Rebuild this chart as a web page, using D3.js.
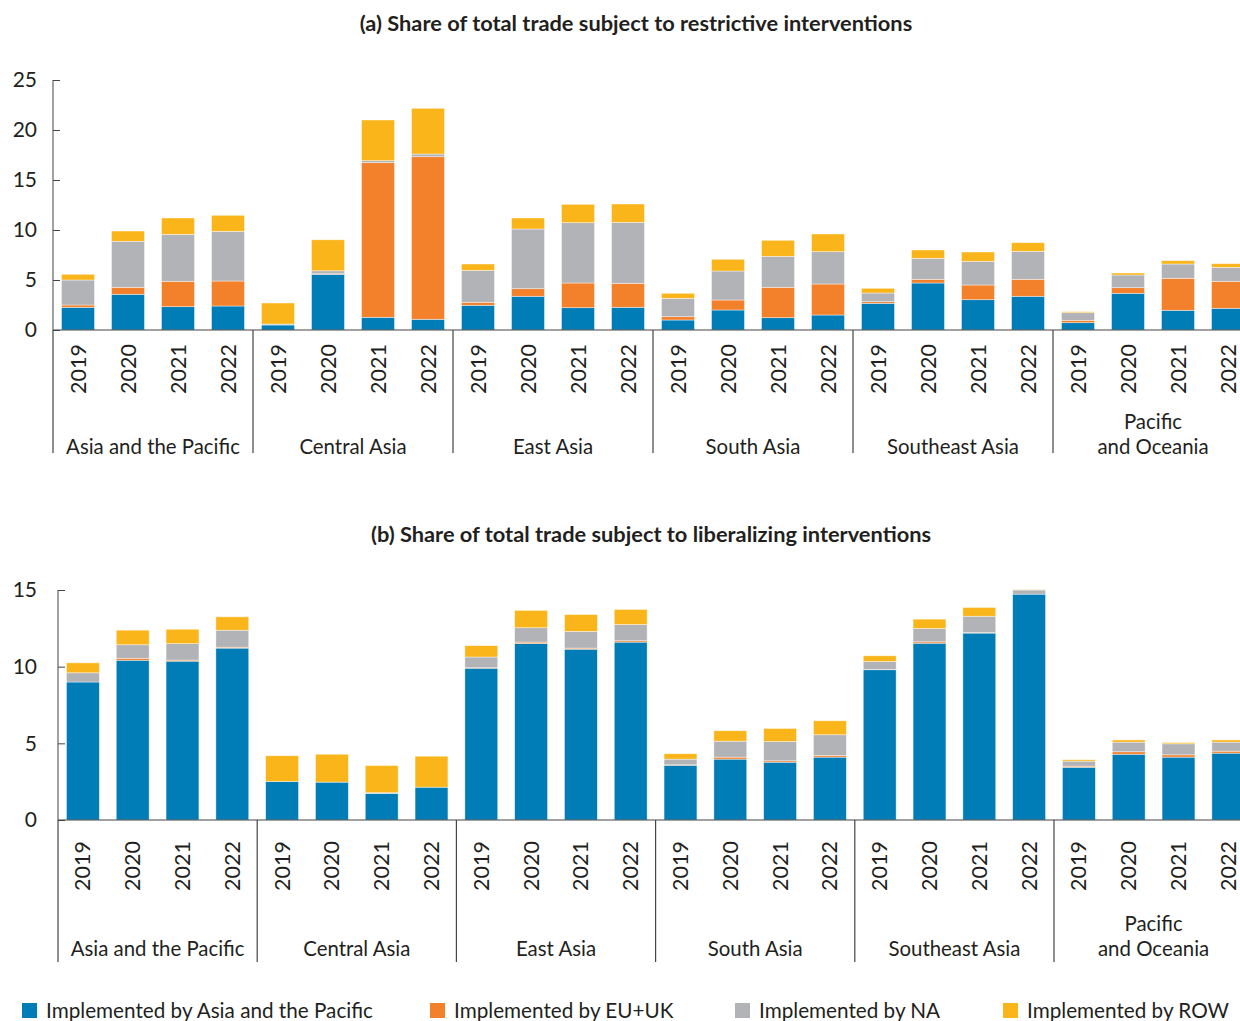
<!DOCTYPE html>
<html>
<head>
<meta charset="utf-8">
<script src="https://cdn.jsdelivr.net/npm/d3@7"></script>
<style>
	body { margin: 0; background: #fff; overflow: hidden; }
	text { font-family: Lato, "Open Sans", sans-serif; fill: #231f20; }
</style>
</head>
<body>
<div id="chart"></div>
<script>
/* eslint-disable no-magic-numbers */

var regions = ["Asia and the Pacific", "Central Asia", "East Asia", "South Asia", "Southeast Asia", "Pacific and Oceania"];
var regionLabels = [["Asia and the Pacific"], ["Central Asia"], ["East Asia"], ["South Asia"], ["Southeast Asia"], ["Pacific", "and Oceania"]];
var years = ["2019", "2020", "2021", "2022"];
var seriesNames = ["Implemented by Asia and the Pacific", "Implemented by EU+UK", "Implemented by NA", "Implemented by ROW"];
var colors = ["#007db7", "#f3812b", "#b2b3b6", "#fab51a"];

// (a) restrictive, per region x year
var restrictAPAC = [2.27, 3.57, 2.33, 2.4, 0.5, 5.57, 1.27, 1.07, 2.47, 3.37, 2.23, 2.27, 1.0, 2.0, 1.23, 1.5, 2.67, 4.7, 3.03, 3.37, 0.73, 3.67, 1.97, 2.17];
var restrictEU = [0.23, 0.7, 2.54, 2.5, 0, 0.05, 15.46, 16.26, 0.3, 0.76, 2.47, 2.4, 0.33, 1.0, 3.04, 3.1, 0.16, 0.37, 1.47, 1.7, 0.24, 0.56, 3.2, 2.7];
var restrictNA = [2.5, 4.6, 4.7, 4.97, 0.1, 0.3, 0.2, 0.27, 3.2, 5.97, 6.03, 6.1, 1.84, 2.9, 3.1, 3.23, 0.87, 2.1, 2.37, 2.8, 0.76, 1.27, 1.43, 1.4];
var restrictROW = [0.57, 1.03, 1.63, 1.6, 2.1, 3.1, 4.07, 4.57, 0.63, 1.1, 1.84, 1.83, 0.5, 1.17, 1.6, 1.77, 0.47, 0.83, 0.93, 0.86, 0.1, 0.2, 0.33, 0.36];

// (b) liberalizing
var liberalAPAC = [9.0, 10.42, 10.36, 11.21, 2.51, 2.47, 1.73, 2.14, 9.9, 11.51, 11.14, 11.6, 3.57, 3.97, 3.77, 4.1, 9.8, 11.53, 12.19, 14.73, 3.44, 4.29, 4.1, 4.36];
var liberalEU = [0, 0.13, 0.07, 0.06, 0, 0, 0, 0, 0.03, 0.09, 0.07, 0.09, 0.03, 0.13, 0.09, 0.11, 0.02, 0.09, 0.03, 0, 0.07, 0.16, 0.15, 0.13];
var liberalNA = [0.6, 0.88, 1.07, 1.11, 0, 0, 0.05, 0, 0.7, 0.94, 1.09, 1.06, 0.37, 1.04, 1.26, 1.35, 0.52, 0.87, 1.07, 0.27, 0.33, 0.63, 0.72, 0.59];
var liberalROW = [0.65, 0.95, 0.94, 0.87, 1.68, 1.82, 1.77, 2.02, 0.74, 1.13, 1.1, 0.98, 0.35, 0.68, 0.85, 0.91, 0.37, 0.61, 0.57, 0.03, 0.09, 0.14, 0.08, 0.14];

var restrictTicks = [0, 5, 10, 15, 20, 25];
var liberalTicks = [0, 5, 10, 15];

var svg = d3.select("#chart").append("svg")
	.attr("width", 1240)
	.attr("height", 1021);

function buildRows(a, b, c, d) {
	var rows = [];
	regions.forEach(function(r, ri) {
		years.forEach(function(yr, yi) {
			var i = ri * years.length + yi;
			rows.push({ key: r + "|" + yr, region: r, year: yr, s0: a[i], s1: b[i], s2: c[i], s3: d[i] });
		});
	});
	return rows;
}

function panel(opt) {
	var rows = buildRows.apply(null, opt.series),
		keys = ["s0", "s1", "s2", "s3"],
		stacked = d3.stack().keys(keys)(rows),
		x = d3.scaleBand()
			.domain(rows.map(function(d) { return d.key; }))
			.range([opt.left, opt.left + opt.step * rows.length])
			.paddingInner(0.34)
			.paddingOuter(0.17),
		y = d3.scaleLinear()
			.domain([0, opt.max])
			.range([opt.base, opt.top]),
		g = svg.append("g");

	g.append("text")
		.attr("x", opt.titleX)
		.attr("y", opt.titleY)
		.attr("text-anchor", "middle")
		.style("font-size", "21.8px")
		.style("font-weight", "bold")
		.text(opt.title);

	g.append("g")
		.selectAll("g")
		.data(stacked)
		.join("g")
		.attr("fill", function(d, i) { return colors[i]; })
		.selectAll("rect")
		.data(function(d) { return d; })
		.join("rect")
		.attr("x", function(d) { return x(d.data.key); })
		.attr("width", x.bandwidth())
		.attr("y", function(d) { return y(d[1]); })
		.attr("height", function(d) { return Math.max(0, y(d[0]) - y(d[1])); })
		.attr("stroke", "#fff")
		.attr("stroke-opacity", 0.6)
		.attr("stroke-width", 0.7);

	// y axis, ticks pointing inwards
	var yAxis = g.append("g")
		.attr("transform", "translate(" + opt.left + ",0)")
		.call(d3.axisRight(y).tickValues(opt.ticks).tickSize(7).tickFormat(""));
	yAxis.select(".domain").attr("stroke", "#444").attr("d", "M0," + opt.top + "V" + opt.base);
	yAxis.selectAll(".tick line").attr("stroke", "#444");

	g.append("g")
		.selectAll("text")
		.data(opt.ticks)
		.join("text")
		.attr("x", 37)
		.attr("y", function(d) { return y(d); })
		.attr("dy", "0.35em")
		.attr("text-anchor", "end")
		.style("font-size", "21px")
		.text(function(d) { return d; });

	// baseline
	g.append("line")
		.attr("x1", opt.left)
		.attr("x2", opt.left + opt.step * rows.length)
		.attr("y1", y(0))
		.attr("y2", y(0))
		.attr("stroke", "#444")
		.attr("stroke-width", 1.2);

	// year labels
	g.append("g")
		.selectAll("text")
		.data(rows)
		.join("text")
		.attr("transform", function(d) {
			return "translate(" + (x(d.key) + x.bandwidth() / 2) + "," + opt.yearY + ") rotate(-90)";
		})
		.attr("text-anchor", "end")
		.attr("dy", "0.35em")
		.style("font-size", "21.5px")
		.text(function(d) { return d.year; });

	// group separators and labels
	var groupW = opt.step * years.length;
	g.append("g")
		.selectAll("line")
		.data(regions)
		.join("line")
		.attr("x1", function(d, i) { return opt.left + i * groupW; })
		.attr("x2", function(d, i) { return opt.left + i * groupW; })
		.attr("y1", y(0))
		.attr("y2", opt.sepBottom)
		.attr("stroke", "#444")
		.attr("stroke-width", 1.2);

	g.append("g")
		.selectAll("text")
		.data(regionLabels)
		.join("text")
		.attr("x", function(d, i) { return opt.left + i * groupW + groupW / 2; })
		.attr("y", function(d) { return opt.groupY - (d.length - 1) * 25; })
		.attr("text-anchor", "middle")
		.style("font-size", "20.4px")
		.call(function(t) {
			t.selectAll("tspan")
				.data(function(d) { return d; })
				.join("tspan")
				.attr("x", function() { return this.parentNode.getAttribute("x"); })
				.attr("dy", function(d, i) { return i ? 25 : 0; })
				.text(function(d) { return d; });
		});
}

panel({
	title: "(a) Share of total trade subject to restrictive interventions",
	titleX: 636, titleY: 31,
	series: [restrictAPAC, restrictEU, restrictNA, restrictROW],
	left: 53, step: 50, top: 80, base: 330, max: 25, ticks: restrictTicks,
	yearY: 344, sepBottom: 453, groupY: 454
});

panel({
	title: "(b) Share of total trade subject to liberalizing interventions",
	titleX: 651, titleY: 542,
	series: [liberalAPAC, liberalEU, liberalNA, liberalROW],
	left: 58, step: 49.8, top: 590, base: 820, max: 15, ticks: liberalTicks,
	yearY: 841, sepBottom: 962, groupY: 956
});

// legend
var legendX = [22, 430, 735, 1003];
var legend = svg.append("g")
	.selectAll("g")
	.data(seriesNames)
	.join("g")
	.attr("transform", function(d, i) { return "translate(" + legendX[i] + ",1003)"; });

legend.append("rect")
	.attr("width", 15)
	.attr("height", 15)
	.attr("fill", function(d, i) { return colors[i]; });

legend.append("text")
	.attr("x", 24)
	.attr("y", 8)
	.attr("dy", "0.35em")
	.style("font-size", "20.7px")
	.text(function(d) { return d; });
</script>
</body>
</html>
